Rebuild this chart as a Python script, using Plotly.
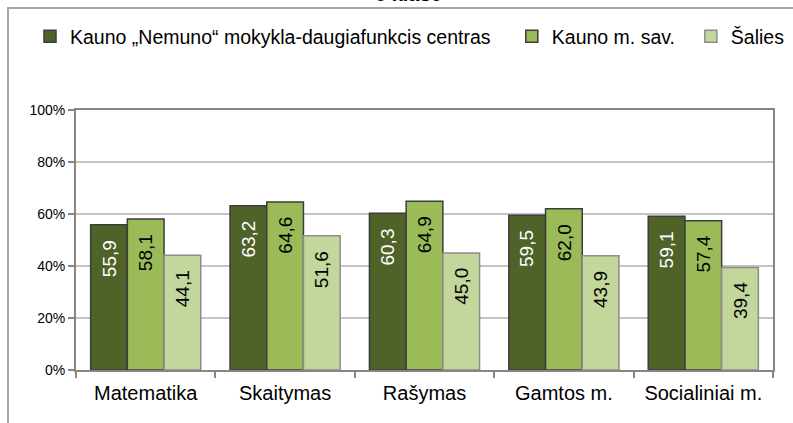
import plotly.graph_objects as go

# Subject areas and average results (%) for each group
subjects = ["Matematika", "Skaitymas", "Rašymas", "Gamtos m.", "Socialiniai m."]
school = [55.9, 63.2, 60.3, 59.5, 59.1]
city = [58.1, 64.6, 64.9, 62.0, 57.4]
country = [44.1, 51.6, 45.0, 43.9, 39.4]

series_names = ["Kauno „Nemuno“ mokykla-daugiafunkcis centras", "Kauno m. sav.", "Šalies"]
y_ticks = [0, 20, 40, 60, 80, 100]
title_text = "8 klasė"

FONT = "Liberation Sans, Arial, sans-serif"
W, H = 793, 423
ML, MR, MT, MB = 76, 20, 110, 53
PW, PH = W - ML - MR, H - MT - MB
BARGAP = 0.21

NBSP = "\u00a0"
ZWSP = "\u200b"

styles = [
    dict(color="#4f6228", line="#3c3c3c", text="white", pad=3),
    dict(color="#9bbb59", line="#3c3c3c", text="black", pad=2),
    dict(color="#c3d69b", line="#8c8c8c", text="black", pad=0),
]
all_series = [school, city, country]

fig = go.Figure()
for name, vals, st in zip(series_names, all_series, styles):
    fig.add_trace(go.Bar(
        name=name + NBSP * st["pad"] + (ZWSP if st["pad"] else ""),
        x=subjects,
        y=vals,
        marker=dict(color=st["color"], line=dict(color=st["line"], width=1.5)),
        hoverinfo="skip",
    ))

# rotated value labels just below the top of each bar
bar_px = PW / len(subjects) * (1 - BARGAP) / len(all_series)
for k, (vals, st) in enumerate(zip(all_series, styles)):
    offset = (k - (len(all_series) - 1) / 2) * bar_px
    for subj, v in zip(subjects, vals):
        fig.add_annotation(
            x=subj, y=v, xref="x", yref="y",
            text=f"{v:.1f}".replace(".", ","),
            textangle=-90, xanchor="center", yanchor="top",
            xshift=offset, yshift=-13,
            showarrow=False,
            font=dict(family=FONT, size=19, color=st["text"]),
        )

def px_to_paper_x(px):
    return (px - ML) / PW

def px_to_paper_y(py):
    return (H - MB - py) / PH

# outer chart frame (partly outside the visible page)
fig.add_shape(type="rect", xref="paper", yref="paper",
              x0=px_to_paper_x(8), x1=px_to_paper_x(W + 30),
              y0=px_to_paper_y(H + 30), y1=px_to_paper_y(8),
              line=dict(color="#a6a6a6", width=2), layer="below")

fig.add_annotation(text=f"<b>{title_text}</b>", xref="paper", yref="paper",
                   x=px_to_paper_x(408), y=px_to_paper_y(7), xanchor="center", yanchor="bottom",
                   showarrow=False, font=dict(family=FONT, size=20, color="black"))

fig.update_layout(
    width=W, height=H,
    margin=dict(l=ML, r=MR, t=MT, b=MB),
    paper_bgcolor="white", plot_bgcolor="white",
    barmode="group", bargap=BARGAP, bargroupgap=0,
    showlegend=True,
    legend=dict(orientation="h", x=px_to_paper_x(30), y=px_to_paper_y(17),
                xanchor="left", yanchor="top",
                font=dict(family=FONT, size=19.5, color="black"),
                itemclick=False, itemdoubleclick=False, bgcolor="rgba(0,0,0,0)"),
    font=dict(family=FONT, color="black"),
)
fig.update_xaxes(
    showline=True, linecolor="#868686", linewidth=2, mirror=True,
    ticks="outside", tickson="boundaries", ticklen=6, tickcolor="#868686", tickwidth=2,
    tickfont=dict(family=FONT, size=20, color="black"),
    ticklabelstandoff=4,
    showgrid=False,
)
fig.update_yaxes(
    range=[0, 100], tickvals=y_ticks, ticktext=[f"{v}%" for v in y_ticks],
    showline=True, linecolor="#868686", linewidth=2, mirror=True,
    ticks="outside", ticklen=6, tickcolor="#868686", tickwidth=2,
    tickfont=dict(family=FONT, size=14, color="black"),
    showgrid=True, gridcolor="#c4c4c4", gridwidth=1.5,
    zeroline=False,
)

fig.write_html("out.html")
